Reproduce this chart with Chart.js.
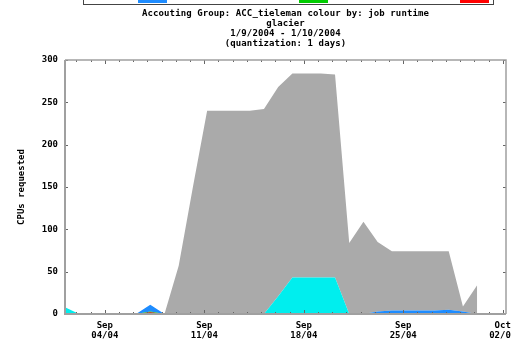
<!DOCTYPE html>
<html><head><meta charset="utf-8">
<script src="https://cdn.jsdelivr.net/npm/chart.js@4.4.0/dist/chart.umd.min.js"></script>
<style>
html,body{margin:0;padding:0;background:#fff;overflow:hidden;}
#wrap{position:relative;width:511px;height:355px;overflow:hidden;background:#fff;}
canvas{position:absolute;left:0;top:0;}
#title{position:absolute;left:0;top:8px;width:571px;text-align:center;font:bold 9px "DejaVu Sans Mono",monospace;line-height:10.1px;color:#000;white-space:pre;letter-spacing:0.1px;}
#legbox{position:absolute;left:83px;top:-10px;width:409px;height:13px;border:1px solid #444;}
.sw{position:absolute;top:0;width:29px;height:3px;}
</style></head>
<body>
<div id="wrap">
<canvas id="c" width="511" height="355"></canvas>
<div id="legbox"></div>
<div class="sw" style="left:138px;background:#1e8cff"></div>
<div class="sw" style="left:299px;background:#00cc00"></div>
<div class="sw" style="left:460px;background:#ff0000"></div>
<div id="title">Accouting Group: ACC_tieleman colour by: job runtime
glacier
1/9/2004 - 1/10/2004
(quantization: 1 days)</div>
</div>
<script>
// ---- data (September 2004, one value per day) ----
const days      = [1,2,3,4,5,6,7,8,9,10,11,12,13,14,15,16,17,18,19,20,21,22,23,24,25,26,27,28,29,30];
const redVals   = [0,0,0,0,0,0,2,0,0,0,0,0,0,0,0,0,0,0,0,0,0,0,0,0,0,0,0,0,0,0];
const greenVals = [0,0,0,0,0,0,1,0,0,0,0,0,0,0,0,0,0,0,0,0,0,0,0,0,0,0,0,0,0,0];
const blueVals  = [0,0,0,0,0,0,8,0,0,0,0,0,0,0,0,0,0,0,0,0,0,0,3,4,4,4,4,5,3,0];
const cyanVals  = [8,0,0,0,0,0,0,0,0,0,0,0,0,0,0,21,43,43,43,43,0,0,0,0,0,0,0,0,0,0];
const grayVals  = [0,0,0,0,0,0,0,0,57,150,240,240,240,240,242,247,241,241,241,240,84,109,82,70,70,70,70,69,6,34];
const tickDays   = [4,11,18,25,32];
const tickLabels = [['Sep','04/04'],['Sep','11/04'],['Sep','18/04'],['Sep','25/04'],['Oct','02/04']];
const yTicks     = [0,50,100,150,200,250,300];

const SAMPLE_OFFSET = 0.2;
const X_MIN = 1.2, X_MAX = 32.23;
const FONT = {family:'"DejaVu Sans Mono", monospace', size:9, weight:'bold', lineHeight:1.111};

function series(label, vals, color, first){
  return {
    label, data: days.map((d,i)=>({x:d+SAMPLE_OFFSET, y:vals[i]})),
    backgroundColor: color, borderColor: color, borderWidth: 0,
    pointRadius: 0, tension: 0, fill: first ? 'origin' : '-1'
  };
}

const frame = {
  id:'frame',
  afterDatasetsDraw(chart){
    const {ctx, chartArea:a, scales:{x,y}} = chart;
    ctx.save();
    ctx.strokeStyle = '#666'; ctx.lineWidth = 1;
    ctx.beginPath();
    for (let d = Math.ceil(X_MIN); d <= X_MAX; d++){
      const px = Math.round(x.getPixelForValue(d)) + 0.5;
      const len = tickDays.includes(d) ? 4 : 2;
      ctx.moveTo(px, a.top); ctx.lineTo(px, a.top + len);
      ctx.moveTo(px, a.bottom); ctx.lineTo(px, a.bottom - len);
    }
    yTicks.forEach(v => {
      const py = Math.round(y.getPixelForValue(v)) + 0.5;
      ctx.moveTo(a.left, py); ctx.lineTo(a.left + 3, py);
      ctx.moveTo(a.right, py); ctx.lineTo(a.right - 3, py);
    });
    ctx.stroke();
    ctx.strokeStyle = '#a0a0a0';
    ctx.lineWidth = 2;
    ctx.beginPath();
    ctx.moveTo(a.left, a.top); ctx.lineTo(a.left, a.bottom); ctx.lineTo(a.right, a.bottom);
    ctx.stroke();
    ctx.lineWidth = 1.5;
    ctx.beginPath();
    ctx.moveTo(a.left, a.top); ctx.lineTo(a.right, a.top); ctx.lineTo(a.right, a.bottom);
    ctx.stroke();
    ctx.restore();
  }
};

new Chart(document.getElementById('c'), {
  type:'line',
  data:{ datasets:[
    series('red', redVals, '#cc0000', true),
    series('green', greenVals, '#00cc00', false),
    series('blue', blueVals, '#1e8cff', false),
    series('cyan', cyanVals, '#00eeee', false),
    series('gray', grayVals, '#aaaaaa', false)
  ]},
  options:{
    responsive:false, animation:false, devicePixelRatio:1,
    layout:{padding:{top:60, right:5, left:0, bottom:0}},
    plugins:{legend:{display:false}, tooltip:{enabled:false}, title:{display:false}},
    scales:{
      x:{
        type:'linear', min:X_MIN, max:X_MAX,
        grid:{display:false, drawTicks:false}, border:{display:false},
        afterBuildTicks(s){ s.ticks = tickDays.map(v=>({value:v})); },
        afterFit(s){ s.height = 41; s.paddingLeft = 0; s.paddingRight = 0; },
        ticks:{ autoSkip:false, maxRotation:0, padding:7, color:'#000', font:FONT,
          callback(v){ const i = tickDays.indexOf(v); return i>=0 ? tickLabels[i] : ''; } }
      },
      y:{
        stacked:true, min:0, max:300,
        grid:{display:false, drawTicks:false}, border:{display:false},
        afterBuildTicks(s){ s.ticks = yTicks.map(v=>({value:v})); },
        afterFit(s){ s.width = 65; s.paddingTop = 0; s.paddingBottom = 0; },
        ticks:{ padding:7, color:'#000', font:FONT },
        title:{ display:true, text:'CPUs requested', color:'#000', font:FONT, padding:{top:17, bottom:0} }
      }
    }
  },
  plugins:[frame]
});
</script>
</body></html>
